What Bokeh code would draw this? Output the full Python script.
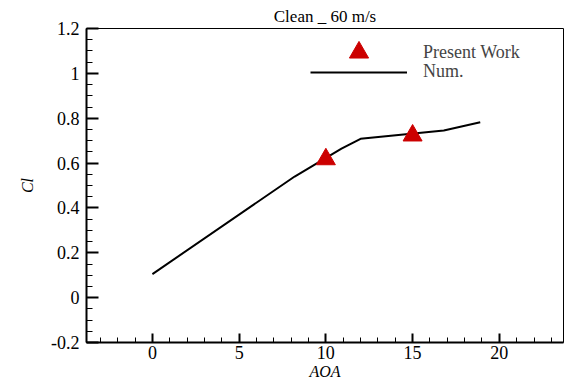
from bokeh.plotting import figure
from bokeh.models import (Range1d, FixedTicker, NumeralTickFormatter, Legend, LegendItem)
from bokeh.embed import file_html
from bokeh.resources import INLINE

# ---- data ----
num_aoa = [0, 8.2, 10.9, 12.0, 16.8, 18.9]
num_cl = [0.105, 0.54, 0.664, 0.708, 0.745, 0.782]
exp_aoa = [10, 15]
exp_cl = [0.617, 0.723]
x_ticks = [0, 5, 10, 15, 20]
y_ticks = [-0.2, 0, 0.2, 0.4, 0.6, 0.8, 1, 1.2]

FONT = "'Liberation Serif', serif"

p = figure(width=565, height=382, output_backend="svg", toolbar_location=None,
           x_range=Range1d(-3.8, 23.7), y_range=Range1d(-0.2, 1.2),
           min_border_left=86, min_border_right=2, min_border_top=28, min_border_bottom=40,
           title="Clean _ 60 m/s")
p.title.align = "center"
p.title.text_font = FONT
p.title.text_font_size = "17px"
p.title.text_font_style = "normal"
p.title.text_color = "black"
p.title.standoff = 5
p.xgrid.visible = False
p.ygrid.visible = False
p.outline_line_color = "black"
p.outline_line_width = 1
p.background_fill_color = "white"
p.border_fill_color = "white"

# axes
xa = p.xaxis[0]
ya = p.yaxis[0]
xa.ticker = FixedTicker(ticks=x_ticks, minor_ticks=list(range(-3, 24)))
ya.ticker = FixedTicker(ticks=y_ticks, minor_ticks=[round(-0.2 + 0.05 * i, 2) for i in range(29)])
ya.formatter = NumeralTickFormatter(format="0.[0]")
for ax in (xa, ya):
    ax.axis_line_color = "black"
    ax.axis_line_width = 2
    ax.major_tick_line_color = "black"
    ax.minor_tick_line_color = "black"
    ax.major_tick_line_width = 2
    ax.minor_tick_line_width = 1
    ax.major_tick_out = 0
    ax.minor_tick_out = 0
    ax.major_label_text_font = FONT
    ax.major_label_text_font_size = "18px"
    ax.major_label_text_color = "black"
    ax.axis_label_text_font = FONT
    ax.axis_label_text_font_style = "italic"
    ax.axis_label_text_font_size = "16px"
    ax.axis_label_text_color = "black"
xa.major_tick_in = 9
xa.minor_tick_in = 5
ya.major_tick_in = 12
ya.minor_tick_in = 6
xa.major_label_standoff = 3
ya.major_label_standoff = 7
xa.axis_label = "AOA"
xa.axis_label_standoff = 1
ya.axis_label = "Cl"
ya.axis_label_standoff = 12

# glyphs
line_r = p.line(num_aoa, num_cl, line_color="black", line_width=2)
tri_r = p.scatter(exp_aoa, exp_cl, marker="triangle", size=19,
                  fill_color="#cc0000", line_color="#cc0000")

# legends (two, to mimic separate rows with big marker)
leg1 = Legend(items=[LegendItem(label="Present Work", renderers=[tri_r])],
              location=(224, 266), glyph_width=97, glyph_height=48,
              label_standoff=16, padding=0, margin=0, spacing=0,
              border_line_color=None, background_fill_alpha=0,
              label_text_font=FONT, label_text_font_size="18px")
leg2 = Legend(items=[LegendItem(label="Num.", renderers=[line_r])],
              location=(224, 260), glyph_width=97, glyph_height=20,
              label_standoff=16, padding=0, margin=0, spacing=0,
              border_line_color=None, background_fill_alpha=0,
              label_text_font=FONT, label_text_font_size="18px")
p.add_layout(leg1)
p.add_layout(leg2)

open("out.html", "w").write(file_html(p, INLINE))
